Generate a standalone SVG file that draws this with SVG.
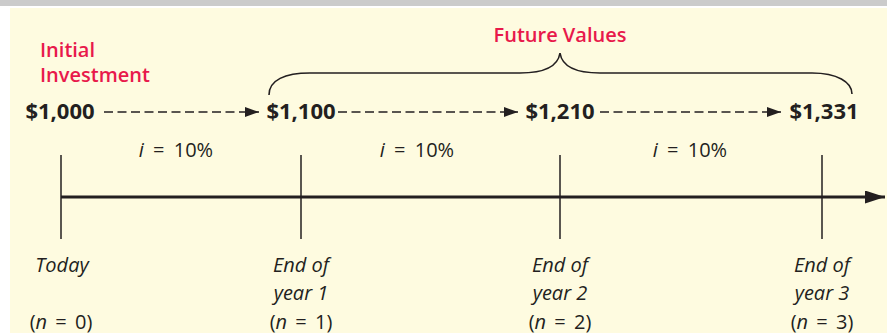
<svg xmlns="http://www.w3.org/2000/svg" width="887" height="336" viewBox="0 0 887 336">
<defs>
<style>
.amt{font-family:"Open Sans","Noto Sans",sans-serif;font-weight:bold;font-size:22px;fill:#231f20;text-anchor:middle}
.red{font-family:"Open Sans","Noto Sans",sans-serif;font-weight:600;font-size:20px;fill:#e8194b}
.rate{font-family:"Open Sans","Noto Sans",sans-serif;font-size:20px;fill:#231f20;text-anchor:middle;word-spacing:4px}
.lab{font-family:"Open Sans","Noto Sans",sans-serif;font-size:20px;fill:#231f20;text-anchor:middle}
.par{word-spacing:3px}
.it{font-style:italic}
.dash{stroke:#231f20;stroke-width:1.6;stroke-dasharray:9 4.5;fill:none}
.tick{stroke:#231f20;stroke-width:1.5}
</style>
<marker id="ah" viewBox="0 0 10 10" refX="10" refY="5" markerWidth="14" markerHeight="10" markerUnits="userSpaceOnUse" orient="auto" preserveAspectRatio="none">
<path d="M0,0 L10,5 L0,10 Z" fill="#231f20"/>
</marker>
<marker id="ah2" viewBox="0 0 10 10" refX="10" refY="5" markerWidth="20" markerHeight="13" markerUnits="userSpaceOnUse" orient="auto" preserveAspectRatio="none">
<path d="M0,0 L10,5 L0,10 Z" fill="#231f20"/>
</marker>
</defs>
<rect x="0" y="0" width="887" height="336" fill="#ffffff"/>
<rect x="0" y="0" width="887" height="6" fill="#cbcbcb"/>
<rect x="10" y="8" width="877" height="325" fill="#fefbe0"/>

<g id="connectors">
<line x1="61" y1="197" x2="885" y2="197" stroke="#231f20" stroke-width="3" marker-end="url(#ah2)"/>
<line x1="104" y1="112" x2="259" y2="112" class="dash" marker-end="url(#ah)"/>
<line x1="338" y1="112" x2="518" y2="112" class="dash" marker-end="url(#ah)"/>
<line x1="600" y1="112" x2="781" y2="112" class="dash" marker-end="url(#ah)"/>
<path d="M269,95 C269,80 285,73 310,73 L520,73 C545,73 558,66 560,53 C562,66 575,73 600,73 L812,73 C837,73 852,82 852,94" fill="none" stroke="#231f20" stroke-width="1.6"/>
</g>

<g id="ticks">
<line class="tick" x1="61" y1="155" x2="61" y2="239"/>
<line class="tick" x1="301" y1="155" x2="301" y2="239"/>
<line class="tick" x1="560" y1="155" x2="560" y2="239"/>
<line class="tick" x1="822" y1="155" x2="822" y2="239"/>
</g>

<g id="initial-label">
<text class="red" x="40" y="57">Initial</text>
<text class="red" x="40" y="82">Investment</text>
</g>
<g id="future-label">
<text class="red" x="560" y="42" text-anchor="middle">Future Values</text>
</g>

<g id="n0">
<text class="amt" x="60" y="119">$1,000</text>
<text class="lab it" x="62" y="272">Today</text>
<text class="lab par" x="61" y="329">(<tspan class="it">n</tspan> = 0)</text>
</g>
<g id="n1">
<text class="amt" x="301" y="119">$1,100</text>
<text class="lab it" x="301" y="272">End of</text>
<text class="lab it" x="301" y="300">year 1</text>
<text class="lab par" x="301" y="329">(<tspan class="it">n</tspan> = 1)</text>
</g>
<g id="n2">
<text class="amt" x="560" y="119">$1,210</text>
<text class="lab it" x="560" y="272">End of</text>
<text class="lab it" x="560" y="300">year 2</text>
<text class="lab par" x="560" y="329">(<tspan class="it">n</tspan> = 2)</text>
</g>
<g id="n3">
<text class="amt" x="824" y="119">$1,331</text>
<text class="lab it" x="822" y="272">End of</text>
<text class="lab it" x="822" y="300">year 3</text>
<text class="lab par" x="822" y="329">(<tspan class="it">n</tspan> = 3)</text>
</g>

<g id="rates">
<text class="rate" x="176" y="157"><tspan class="it">i</tspan> = 10%</text>
<text class="rate" x="417" y="157"><tspan class="it">i</tspan> = 10%</text>
<text class="rate" x="690" y="157"><tspan class="it">i</tspan> = 10%</text>
</g>
</svg>
